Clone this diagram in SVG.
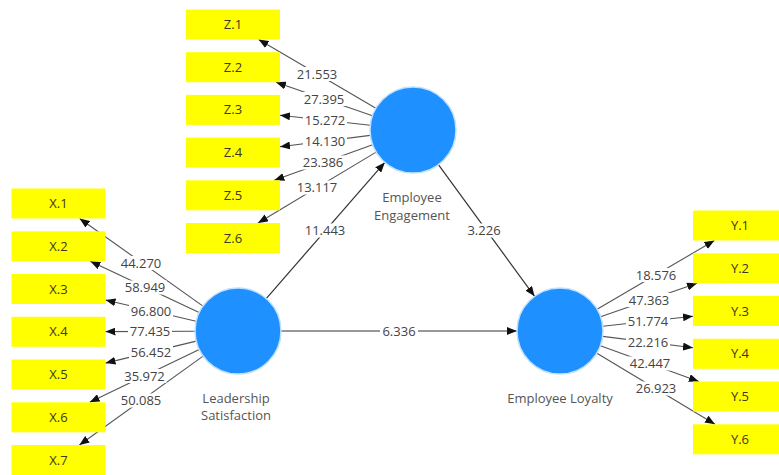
<svg xmlns="http://www.w3.org/2000/svg" width="779" height="475" viewBox="0 0 779 475">
<style>
.box{fill:#ffff00;}
.blab{font-family:"Open Sans","Noto Sans","DejaVu Sans",sans-serif;font-size:13px;fill:#3a3a1a;text-anchor:middle;}
.circ{fill:#1e90ff;stroke:#bfe0ff;stroke-width:1.5;}
.clab{font-family:"Open Sans","Noto Sans","DejaVu Sans",sans-serif;font-size:13px;fill:#555;text-anchor:middle;}
.ln{stroke:#555;stroke-width:1.1;fill:none;marker-end:url(#ah);}
.sl{stroke:#333;stroke-width:1.2;fill:none;marker-end:url(#ah);}
.lbg{fill:#fff;}
.elab{font-family:"Open Sans","Noto Sans","DejaVu Sans",sans-serif;font-size:13px;fill:#444;text-anchor:middle;}
</style>
<defs>
<marker id="ah" markerUnits="userSpaceOnUse" markerWidth="10" markerHeight="8" refX="10" refY="4" orient="auto">
<path d="M0,0 L10,4 L0,8 z" fill="#111"/>
</marker>
</defs>
<rect width="779" height="475" fill="#fff"/>
<g id="connectors">
<line class="ln" x1="375.9" y1="108.2" x2="258.6" y2="39.5"/>
<line class="ln" x1="372.4" y1="115.8" x2="276.0" y2="82.2"/>
<line class="ln" x1="370.3" y1="125.2" x2="280" y2="115.2"/>
<line class="ln" x1="370.3" y1="135.4" x2="280" y2="146.7"/>
<line class="ln" x1="372.6" y1="144.7" x2="274.3" y2="180.3"/>
<line class="ln" x1="376.1" y1="152.1" x2="258" y2="223"/>
<line class="ln" x1="203" y1="306.1" x2="79.6" y2="218.5"/>
<line class="ln" x1="199.1" y1="312.6" x2="90.3" y2="261.3"/>
<line class="ln" x1="196.1" y1="321.2" x2="105.5" y2="300"/>
<line class="ln" x1="195" y1="331.2" x2="105.5" y2="331.6"/>
<line class="ln" x1="196.2" y1="341.1" x2="105.5" y2="363.1"/>
<line class="ln" x1="199.2" y1="349.6" x2="89.7" y2="402.3"/>
<line class="ln" x1="203.1" y1="356.1" x2="79.4" y2="445"/>
<line class="ln" x1="597.1" y1="309.3" x2="714.4" y2="240.5"/>
<line class="ln" x1="600.6" y1="316.8" x2="697" y2="283.3"/>
<line class="ln" x1="602.7" y1="326.3" x2="693" y2="316.2"/>
<line class="ln" x1="602.7" y1="336.4" x2="693" y2="347.8"/>
<line class="ln" x1="600.4" y1="345.7" x2="698.8" y2="381.5"/>
<line class="ln" x1="596.9" y1="353.2" x2="715" y2="424.3"/>
<line class="sl" x1="266.2" y1="298.6" x2="384.8" y2="162.4"/>
<line class="sl" x1="438.4" y1="164.7" x2="534.6" y2="296.3"/>
<line class="sl" x1="281" y1="331" x2="517" y2="331"/>
<g id="edge-labels">
<rect class="lbg" x="295" y="67" width="44" height="14"/><text class="elab" x="317" y="78.6">21.553</text>
<rect class="lbg" x="302" y="92" width="44" height="14"/><text class="elab" x="324" y="103.6">27.395</text>
<rect class="lbg" x="303" y="113" width="44" height="14"/><text class="elab" x="325" y="124.6">15.272</text>
<rect class="lbg" x="303" y="134" width="44" height="14"/><text class="elab" x="325" y="145.6">14.130</text>
<rect class="lbg" x="301" y="155.5" width="44" height="14"/><text class="elab" x="323" y="167.1">23.386</text>
<rect class="lbg" x="295" y="180.5" width="44" height="14"/><text class="elab" x="317" y="192.1">13.117</text>
<rect class="lbg" x="119" y="256" width="44" height="14"/><text class="elab" x="141" y="267.6">44.270</text>
<rect class="lbg" x="123" y="280.5" width="44" height="14"/><text class="elab" x="145" y="292.1">58.949</text>
<rect class="lbg" x="129" y="304" width="44" height="14"/><text class="elab" x="151" y="315.6">96.800</text>
<rect class="lbg" x="128" y="324.5" width="44" height="14"/><text class="elab" x="150" y="336.1">77.435</text>
<rect class="lbg" x="129" y="345" width="44" height="14"/><text class="elab" x="151" y="356.6">56.452</text>
<rect class="lbg" x="122.5" y="369" width="44" height="14"/><text class="elab" x="144.5" y="380.6">35.972</text>
<rect class="lbg" x="119" y="393.5" width="44" height="14"/><text class="elab" x="141" y="405.1">50.085</text>
<rect class="lbg" x="634" y="268" width="44" height="14"/><text class="elab" x="656" y="279.6">18.576</text>
<rect class="lbg" x="627" y="293" width="44" height="14"/><text class="elab" x="649" y="304.6">47.363</text>
<rect class="lbg" x="626" y="314" width="44" height="14"/><text class="elab" x="648" y="325.6">51.774</text>
<rect class="lbg" x="626" y="335" width="44" height="14"/><text class="elab" x="648" y="346.6">22.216</text>
<rect class="lbg" x="628" y="356.5" width="44" height="14"/><text class="elab" x="650" y="368.1">42.447</text>
<rect class="lbg" x="634" y="381.5" width="44" height="14"/><text class="elab" x="656" y="393.1">26.923</text>
<rect class="lbg" x="303" y="223.5" width="44" height="14"/><text class="elab" x="325" y="235.1">11.443</text>
<rect class="lbg" x="465" y="223.5" width="38" height="14"/><text class="elab" x="484" y="235.1">3.226</text>
<rect class="lbg" x="380" y="324" width="38" height="14"/><text class="elab" x="399" y="335.6">6.336</text>
</g>
</g>
<g id="Z1"><rect class="box" x="186" y="9.5" width="94" height="30"/><text class="blab" x="233" y="29">Z.1</text></g>
<g id="Z2"><rect class="box" x="186" y="52.2" width="94" height="30"/><text class="blab" x="233" y="71.7">Z.2</text></g>
<g id="Z3"><rect class="box" x="186" y="94.9" width="94" height="30"/><text class="blab" x="233" y="114.4">Z.3</text></g>
<g id="Z4"><rect class="box" x="186" y="137.6" width="94" height="30"/><text class="blab" x="233" y="157.1">Z.4</text></g>
<g id="Z5"><rect class="box" x="186" y="180.3" width="94" height="30"/><text class="blab" x="233" y="199.8">Z.5</text></g>
<g id="Z6"><rect class="box" x="186" y="223" width="94" height="30"/><text class="blab" x="233" y="242.5">Z.6</text></g>
<g id="X1"><rect class="box" x="11.5" y="188.5" width="94" height="30"/><text class="blab" x="58.5" y="208">X.1</text></g>
<g id="X2"><rect class="box" x="11.5" y="231.3" width="94" height="30"/><text class="blab" x="58.5" y="250.8">X.2</text></g>
<g id="X3"><rect class="box" x="11.5" y="274" width="94" height="30"/><text class="blab" x="58.5" y="293.5">X.3</text></g>
<g id="X4"><rect class="box" x="11.5" y="316.8" width="94" height="30"/><text class="blab" x="58.5" y="336.3">X.4</text></g>
<g id="X5"><rect class="box" x="11.5" y="359.5" width="94" height="30"/><text class="blab" x="58.5" y="379">X.5</text></g>
<g id="X6"><rect class="box" x="11.5" y="402.3" width="94" height="30"/><text class="blab" x="58.5" y="421.8">X.6</text></g>
<g id="X7"><rect class="box" x="11.5" y="445" width="94" height="30"/><text class="blab" x="58.5" y="464.5">X.7</text></g>
<g id="Y1"><rect class="box" x="693" y="210.5" width="94" height="30"/><text class="blab" x="740" y="230">Y.1</text></g>
<g id="Y2"><rect class="box" x="693" y="253.3" width="94" height="30"/><text class="blab" x="740" y="272.8">Y.2</text></g>
<g id="Y3"><rect class="box" x="693" y="296" width="94" height="30"/><text class="blab" x="740" y="315.5">Y.3</text></g>
<g id="Y4"><rect class="box" x="693" y="338.8" width="94" height="30"/><text class="blab" x="740" y="358.3">Y.4</text></g>
<g id="Y5"><rect class="box" x="693" y="381.5" width="94" height="30"/><text class="blab" x="740" y="401">Y.5</text></g>
<g id="Y6"><rect class="box" x="693" y="424.3" width="94" height="30"/><text class="blab" x="740" y="443.8">Y.6</text></g>
<g id="EmployeeEngagement"><circle class="circ" cx="413" cy="130" r="43"/><text class="clab" x="412" y="201.5">Employee</text><text class="clab" x="412" y="219.5">Engagement</text></g>
<g id="LeadershipSatisfaction"><circle class="circ" cx="238" cy="331" r="43"/><text class="clab" x="236" y="402.5">Leadership</text><text class="clab" x="236" y="420">Satisfaction</text></g>
<g id="EmployeeLoyalty"><circle class="circ" cx="560" cy="331" r="43"/><text class="clab" x="560" y="403">Employee Loyalty</text></g>
</svg>
